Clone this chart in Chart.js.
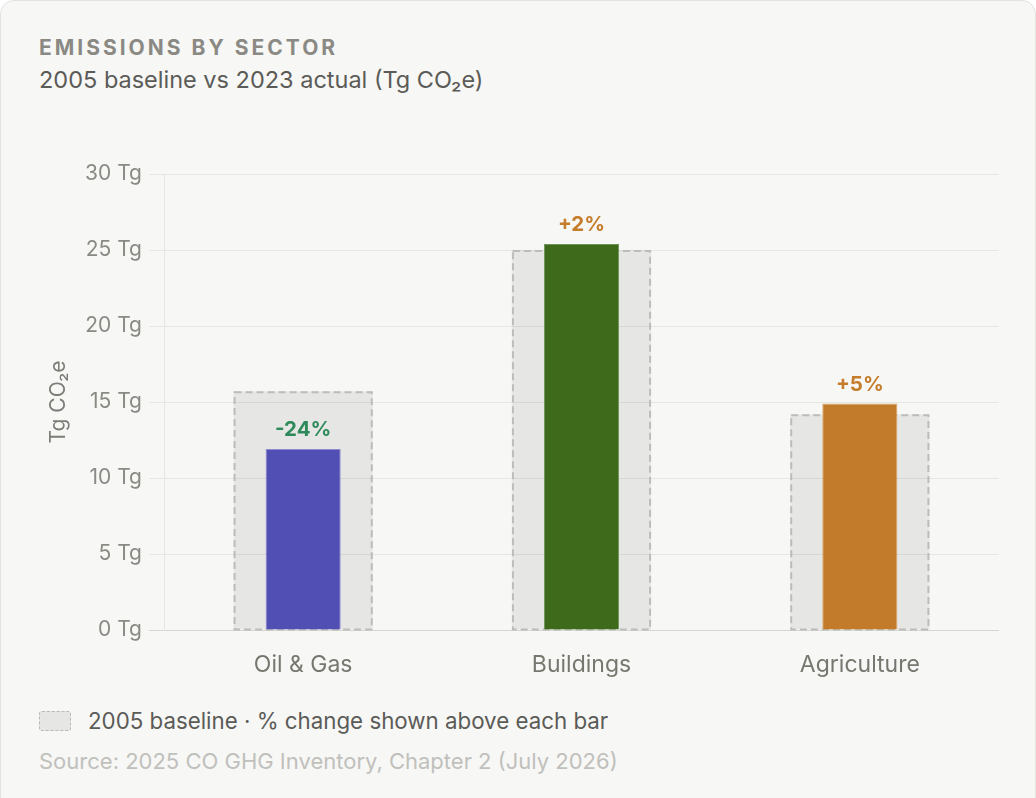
<!DOCTYPE html>
<html>
<head>
<meta charset="utf-8">
<script src="https://cdn.jsdelivr.net/npm/chart.js@4.4.1/dist/chart.umd.min.js"></script>
<style>
  html, body { margin: 0; padding: 0; background: #ffffff; }
  body { width: 1036px; height: 798px; overflow: hidden; font-family: Inter, "Noto Sans", sans-serif; }
  .card {
    position: absolute; left: 0; top: 0; width: 1036px; height: 830px;
    box-sizing: border-box; background: #f7f7f5;
    border: 1px solid #e3e3e0; border-radius: 14px;
  }
  .title {
    position: absolute; left: 38px; top: 34px;
    font-size: 21px; font-weight: 700; letter-spacing: 3px;
    color: #8a8984; line-height: 26px;
  }
  .subtitle {
    position: absolute; left: 38px; top: 64px;
    font-size: 23.5px; color: #5b5b58; line-height: 30px;
  }
  .chart-wrap { position: absolute; left: 38px; top: 120px; width: 960px; height: 580px; }
  .legend {
    position: absolute; left: 38px; top: 706px; display: flex; align-items: center;
    font-size: 22.3px; color: #5b5b58; line-height: 28px;
  }
  .swatch {
    width: 32px; height: 20px; margin-right: 17px; border-radius: 3px; box-sizing: border-box;
    background: #e6e6e4; border: 1.5px dashed #b9b9b6;
  }
  .source {
    position: absolute; left: 38px; top: 746px;
    font-size: 22px; color: #c0c0bc; line-height: 28px;
  }
</style>
</head>
<body>
<div class="card">
  <div class="title">EMISSIONS BY SECTOR</div>
  <div class="subtitle">2005 baseline vs 2023 actual (Tg CO₂e)</div>
  <div class="chart-wrap"><canvas id="sectorChart"></canvas></div>
  <div class="legend"><span class="swatch"></span>2005 baseline · % change shown above each bar</div>
  <div class="source">Source: 2025 CO GHG Inventory, Chapter 2 (July 2026)</div>
</div>
<script>
const sectors = ['Oil & Gas', 'Buildings', 'Agriculture'];
const baseline2005 = [15.7, 25.0, 14.2];
const actual2023 = [11.9, 25.4, 14.9];
const sectorColors = ['#524fb4', '#3d6b1b', '#c27b2a'];
const sectorEdges = ['#8e8bd0', '#6f9356', '#dba86e'];
const yMax = 30;
const yStep = 5;

(() => {
  Chart.defaults.font.family = 'Inter, "Noto Sans", sans-serif';

  // dashed outline on the baseline bars (bar elements have no borderDash)
  const dashedBaseline = {
    id: 'dashedBaseline',
    afterDatasetDraw(chart, args) {
      if (args.index !== 1) return;
      const ctx = chart.ctx;
      ctx.save();
      ctx.strokeStyle = '#bcbcb9';
      ctx.lineWidth = 2;
      ctx.setLineDash([7, 4]);
      args.meta.data.forEach((bar) => {
        const p = bar.getProps(['x', 'y', 'base', 'width'], true);
        ctx.strokeRect(p.x - p.width / 2 + 1, p.y + 1, p.width - 2, p.base - p.y - 1);
      });
      ctx.restore();
    }
  };

  // % change above each 2023 bar
  const changeLabels = {
    id: 'changeLabels',
    afterDatasetsDraw(chart) {
      const ctx = chart.ctx;
      const meta = chart.getDatasetMeta(0);
      ctx.save();
      ctx.font = '700 20.5px Inter, "Noto Sans", sans-serif';
      ctx.textAlign = 'center';
      ctx.textBaseline = 'middle';
      meta.data.forEach((bar, i) => {
        const pct = Math.round((actual2023[i] - baseline2005[i]) / baseline2005[i] * 100);
        ctx.fillStyle = pct < 0 ? '#2e8a5a' : '#c57d2c';
        ctx.fillText((pct > 0 ? '+' : '') + pct + '%', bar.x, bar.y - 19);
      });
      ctx.restore();
    }
  };

  new Chart(document.getElementById('sectorChart'), {
    type: 'bar',
    data: {
      labels: sectors,
      datasets: [{
        label: '2023 actual',
        data: actual2023,
        backgroundColor: sectorColors,
        borderColor: sectorEdges,
        borderWidth: 1,
        grouped: false,
        categoryPercentage: 1,
        barPercentage: 0.27,
        order: 1
      }, {
        label: '2005 baseline',
        data: baseline2005,
        backgroundColor: 'rgba(0,0,0,0.065)',
        borderWidth: 0,
        grouped: false,
        categoryPercentage: 1,
        barPercentage: 0.5,
        order: 2
      }]
    },
    options: {
      responsive: true,
      maintainAspectRatio: false,
      animation: false,
      layout: { padding: { top: 53, left: 4, right: 0, bottom: 0 } },
      plugins: {
        legend: { display: false },
        tooltip: { enabled: false }
      },
      scales: {
        x: {
          grid: { display: false, drawTicks: false },
          border: { display: true, color: '#d6d6d2' },
          ticks: { color: '#77776f', font: { size: 23 }, padding: 21 },
          afterFit: (scale) => { scale.height = 71; }
        },
        y: {
          min: 0,
          max: yMax,
          ticks: {
            stepSize: yStep,
            color: '#8a8a85',
            font: { size: 21 },
            padding: 7,
            callback: (v) => v + ' Tg'
          },
          grid: {
            color: (c) => (c.tick && c.tick.value === 0 ? '#d6d6d2' : '#e6e6e3'),
            tickLength: 15
          },
          border: { display: true, color: '#e6e6e3' },
          title: {
            display: true,
            text: 'Tg CO₂e',
            color: '#7d7d78',
            font: { size: 21 },
            padding: { top: 3, bottom: 12 }
          },
          afterFit: (scale) => { scale.width = 121; }
        }
      }
    },
    plugins: [dashedBaseline, changeLabels]
  });
})();
</script>
</body>
</html>
